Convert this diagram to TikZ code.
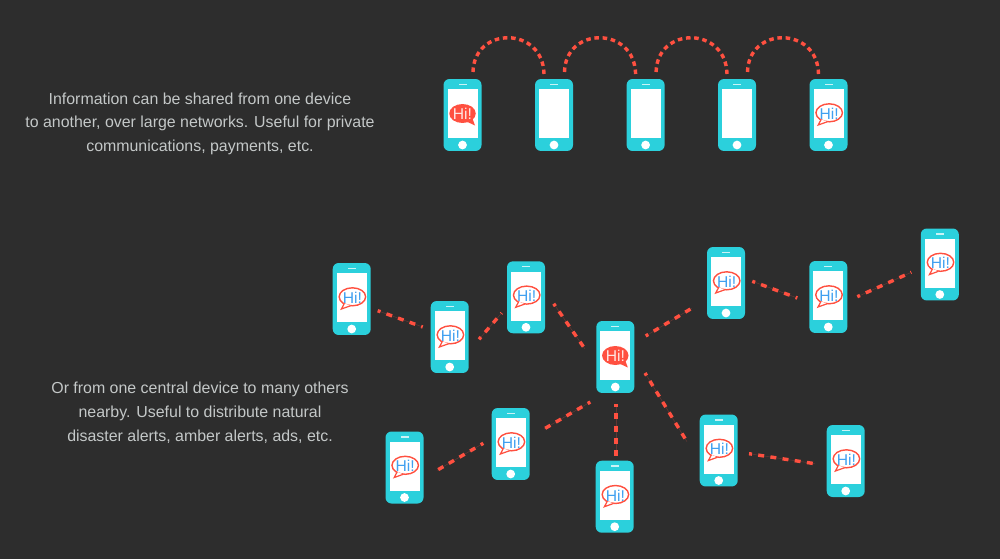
\documentclass[tikz,border=0pt]{standalone}
\usepackage{fontspec}
\setmainfont{Liberation Sans}
\usetikzlibrary{shapes.geometric}
\definecolor{PageGray}{RGB}{45,45,45}
\definecolor{PhoneCyan}{RGB}{43,208,220}
\definecolor{ChatRed}{RGB}{255,80,64}
\definecolor{ChatBlue}{RGB}{64,160,240}
\definecolor{NoteGray}{RGB}{196,200,200}
\tikzset{
  phone/.style={rectangle,fill=PhoneCyan,rounded corners=3.4pt,inner sep=0pt,minimum width=0.76cm,minimum height=1.44cm},
  screen/.style={rectangle,fill=white,inner sep=0pt,minimum width=0.6cm,minimum height=0.98cm},
  homekey/.style={circle,fill=white,inner sep=0pt,minimum size=0.175cm},
  speaker/.style={rectangle,fill=white!75!PhoneCyan,inner sep=0pt,minimum width=0.16cm,minimum height=0.03cm},
  bubble/.style={ellipse,inner sep=0pt,minimum width=0.53cm,minimum height=0.36cm},
  hi/.style={inner sep=0pt,font=\fontsize{8.9}{8.9}\selectfont},
  hop/.style={draw=ChatRed,line width=1.95pt,dash pattern=on 2.6pt off 2.1pt},
  link/.style={draw=ChatRed,line width=1.95pt,dash pattern=on 3.4pt off 3.6pt,dash phase=1.7pt,
    preaction={draw=ChatRed!25!PageGray,solid,line width=0.3pt}},
  note/.style={align=center,text=NoteGray,inner sep=0pt,font=\fontsize{9.06}{13.5}\selectfont},
}
\begin{document}
\begin{tikzpicture}[x=0.02cm,y=0.02cm]
\useasboundingbox (0,0) rectangle (1000,559);
\fill[PageGray] (0,0) rectangle (1000,559);
% phones
\foreach \name/\px/\py in {chain1/462.5/444,chain2/554/444,chain3/645.6/444,chain4/737/444,chain5/828.5/444,
  hub/615.3/202,west1/351.7/260,west2/449.7/222,west3/526/261.7,east1/726/276,east2/828.3/262,east3/939.8/294.5,
  south1/510.7/115,south2/404.5/91.5,south3/614.7/62.3,south4/718.7/108.5,south5/845.7/98}{
  \node[phone] (\name) at (\px,\py) {};
  \node[screen] (\name-scr) at ([yshift=1.2*0.02cm]\name.center) {};
  \node[homekey] (\name-key) at ([yshift=-30*0.02cm]\name.center) {};
  \node[speaker] (\name-spk) at ([yshift=30.7*0.02cm]\name.center) {};
}
% red message
\foreach \name in {chain1,hub}{
  \node[bubble,fill=ChatRed,minimum height=0.38cm] (\name-hi) at ([yshift=1.5*0.02cm]\name.center) {};
  \fill[ChatRed] ([shift={(4,-8)}]\name-hi.center) -- ([shift={(12.5,-12)}]\name-hi.center) -- ([shift={(10,-5)}]\name-hi.center) -- cycle;
  \node[hi,text=white!85!ChatRed] (\name-txt) at ([yshift=-0.5*0.02cm]\name-hi.center) {Hi!};
}
% received messages
\foreach \name in {chain5,west1,west2,west3,east1,east2,east3,south1,south2,south3,south4,south5}{
  \node[bubble,draw=ChatRed,fill=white,line width=0.8pt] (\name-hi) at ([shift={(0.7,2.2)}]\name.center) {};
  \filldraw[draw=ChatRed,fill=white,line width=0.7pt] ([shift={(-8,-6.5)}]\name-hi.center) -- ([shift={(-11,-12.2)}]\name-hi.center) -- ([shift={(-2,-9)}]\name-hi.center);
  \node[hi,text=ChatBlue] (\name-txt) at ([yshift=-1*0.02cm]\name-hi.center) {Hi!};
}
% hops along the chain
\foreach \from/\to in {chain1/chain2,chain2/chain3,chain3/chain4,chain4/chain5}{
  \draw[hop] ([shift={(10.5,43)}]\from.center) .. controls +(1,46) and +(-1,48) .. ([shift={(-10,41)}]\to.center);
}
% links
\draw[link] ([shift={(26,-11.7)}]west1.center) -- ([shift={(-27,10)}]west2.center);
\draw[link] ([shift={(29.3,-2.3)}]west2.center) -- ([shift={(-24.3,-15.7)}]west3.center);
\draw[link] ([shift={(27.7,-6.4)}]west3.center) -- ([shift={(-30.3,8)}]hub.center);
\draw[link] ([shift={(30.4,21)}]hub.center) -- ([shift={(-34.3,-25.3)}]east1.center);
\draw[link] ([shift={(26.3,1.7)}]east1.center) -- ([shift={(-31,-1)}]east2.center);
\draw[link] ([shift={(29,0.3)}]east2.center) -- ([shift={(-28.5,-7.8)}]east3.center);
\draw[link] ([shift={(-25,-45)}]hub.center) -- ([shift={(33.3,15)}]south1.center);
\draw[link] ([shift={(-27.4,0.7)}]south1.center) -- ([shift={(32.5,-2.8)}]south2.center);
\draw[link] ([shift={(0.7,-47)}]hub.center) -- ([shift={(1.3,40.7)}]south3.center);
\draw[link] ([shift={(29.7,-16)}]hub.center) -- ([shift={(-31.7,8.8)}]south4.center);
\draw[link] ([shift={(30.3,-3.2)}]south4.center) -- ([shift={(-30.7,-2.7)}]south5.center);
% notes
\node[note] (note1) at (200,435.2) {Information can be shared from one device\\to another, over large networks. Useful for private\\communications, payments, etc.};
\node[note] (note2) at (200,146.2) {Or from one central device to many others\\nearby. Useful to distribute natural\\disaster alerts, amber alerts, ads, etc.};
\end{tikzpicture}
\end{document}
